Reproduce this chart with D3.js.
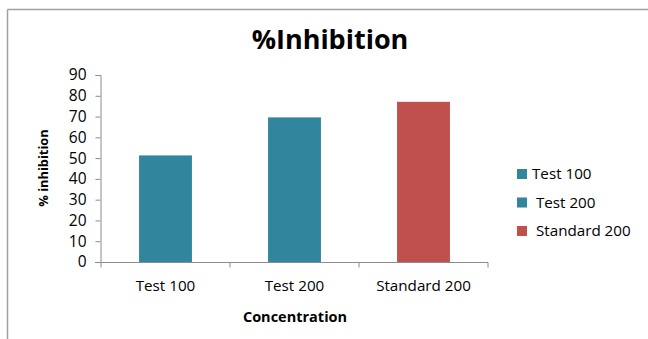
<!DOCTYPE html>
<html>
<head>
<meta charset="utf-8">
<script src="https://cdn.jsdelivr.net/npm/d3@7"></script>
<style>
  html, body { margin: 0; padding: 0; background: #fff; }
  svg { display: block; font-family: "Open Sans", "Liberation Sans", sans-serif; }
  .legend text { white-space: pre; }
</style>
</head>
<body>
<svg id="chart" width="648" height="339"></svg>
<script>
// Percent inhibition by concentration group
const categories = ["Test 100", "Test 200", "Standard 200"];
const inhibition = [51.3, 69.6, 77.1];
const barColors = ["#31859C", "#31859C", "#C0504D"];
const legendLabels = ["Test 100", " Test 200", " Standard 200"];
const yTicks = [0, 10, 20, 30, 40, 50, 60, 70, 80, 90];

const svg = d3.select("#chart");

// Chart-area frame (top and left edges visible)
svg.append("line").attr("x1", 7.5).attr("x2", 648).attr("y1", 9.5).attr("y2", 9.5)
  .attr("stroke", "#a0a0a0").attr("stroke-width", 1.5);
svg.append("line").attr("x1", 7.5).attr("x2", 7.5).attr("y1", 9.5).attr("y2", 339)
  .attr("stroke", "#a0a0a0").attr("stroke-width", 1.5);

// Title
svg.append("text")
  .attr("x", 330).attr("y", 49)
  .attr("text-anchor", "middle")
  .attr("font-weight", "bold").attr("font-size", 27)
  .attr("fill", "#000")
  .text("%Inhibition");

const plot = { left: 101, right: 488, top: 75, bottom: 262 };

const x = d3.scaleBand()
  .domain(categories)
  .range([plot.left, plot.right])
  .paddingInner(0.59).paddingOuter(0.295);

const y = d3.scaleLinear().domain([0, 90]).range([plot.bottom, plot.top]);

// Bars
svg.append("g").selectAll("rect")
  .data(categories)
  .join("rect")
  .attr("x", d => x(d))
  .attr("width", x.bandwidth())
  .attr("y", (d, i) => y(inhibition[i]))
  .attr("height", (d, i) => y(0) - y(inhibition[i]))
  .attr("fill", (d, i) => barColors[i]);

// Y axis
const yAxis = svg.append("g")
  .attr("transform", `translate(${plot.left - 0.5},0)`)
  .call(d3.axisLeft(y).tickValues(yTicks).tickSize(5).tickPadding(9));
yAxis.select(".domain").attr("stroke", "#8c8c8c");
yAxis.selectAll(".tick line").attr("stroke", "#8c8c8c");
yAxis.selectAll(".tick text").attr("font-size", 15.5).attr("fill", "#000")
  .attr("font-family", "Open Sans, sans-serif");

// X axis with boundary tick marks
const xAxis = svg.append("g")
  .attr("transform", `translate(0,${plot.bottom + 0.5})`);
xAxis.append("line")
  .attr("x1", plot.left - 6).attr("x2", plot.right)
  .attr("stroke", "#8c8c8c");
const bounds = [plot.left].concat(categories.map(c => x(c) + x.bandwidth() + x.step() * x.paddingInner() / 2));
bounds[bounds.length - 1] = plot.right;
xAxis.selectAll(".xtick").data(bounds).join("line")
  .attr("class", "xtick")
  .attr("x1", d => d).attr("x2", d => d)
  .attr("y1", 0).attr("y2", 5)
  .attr("stroke", "#8c8c8c");
xAxis.selectAll(".xlabel").data(categories).join("text")
  .attr("class", "xlabel")
  .attr("x", d => x(d) + x.bandwidth() / 2)
  .attr("y", 28)
  .attr("text-anchor", "middle")
  .attr("font-size", 15.2).attr("fill", "#000")
  .text(d => d);

// Axis titles
svg.append("text")
  .attr("transform", "translate(48,168) rotate(-90)")
  .attr("text-anchor", "middle")
  .attr("font-weight", "bold").attr("font-size", 12.8)
  .text("% inhibition");
svg.append("text")
  .attr("x", 295).attr("y", 322)
  .attr("text-anchor", "middle")
  .attr("font-weight", "bold").attr("font-size", 14.5)
  .text("Concentration");

// Legend
const legend = svg.append("g").attr("class", "legend");
const items = legend.selectAll("g").data(legendLabels).join("g")
  .attr("transform", (d, i) => `translate(517,${169 + i * 28.5})`);
items.append("rect").attr("width", 10).attr("height", 10)
  .attr("fill", (d, i) => barColors[i]);
items.append("text").attr("x", 15).attr("y", 10)
  .attr("font-size", 15.2).attr("fill", "#000")
  .text(d => d);
</script>
</body>
</html>
